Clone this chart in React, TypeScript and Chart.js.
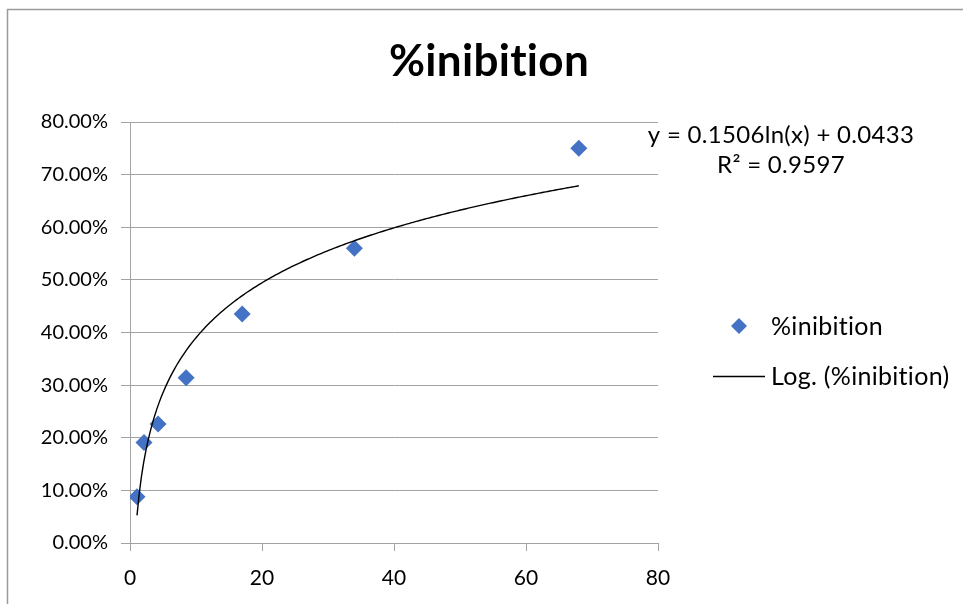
import React, { useEffect, useRef } from "react";
import { Chart, registerables } from "chart.js";

Chart.register(...registerables);

const seriesName = "%inibition";
const xValues = [1.0625, 2.125, 4.25, 8.5, 17, 34, 68];
const yValues = [0.088, 0.191, 0.226, 0.314, 0.435, 0.56, 0.75];
const trendSlope = 0.1506;
const trendIntercept = 0.0433;
const equationText = "y = 0.1506ln(x) + 0.0433";
const r2Text = "R² = 0.9597";
const trendName = "Log. (%inibition)";

const FONT = "Lato, 'Open Sans', sans-serif";
const GRID = "#a3a3a3";
const BLUE = "#4472C4";

export default function App() {
  const ref = useRef<HTMLCanvasElement | null>(null);

  useEffect(() => {
    if (!ref.current) return;
    const scatterData = xValues.map((x, i) => ({ x, y: yValues[i] }));
    const xMin = xValues[0];
    const xMax = xValues[xValues.length - 1];
    const trendData: { x: number; y: number }[] = [];
    const n = 200;
    for (let i = 0; i <= n; i++) {
      const x = xMin + ((xMax - xMin) * i) / n;
      trendData.push({ x, y: trendSlope * Math.log(x) + trendIntercept });
    }

    const overlay = {
      id: "overlay",
      afterDraw(chart: any) {
        const ctx = chart.ctx as any;
        ctx.save();
        // frame
        ctx.strokeStyle = "#9a9a9a";
        ctx.lineWidth = 1.5;
        ctx.beginPath();
        ctx.moveTo(7.5, 604);
        ctx.lineTo(7.5, 9.5);
        ctx.lineTo(963, 9.5);
        ctx.stroke();
        // disable ligatures via tiny letter spacing
        try {
          ctx.letterSpacing = "0.3px";
        } catch (e) {}
        // title
        ctx.fillStyle = "#000";
        ctx.textAlign = "center";
        ctx.textBaseline = "middle";
        ctx.font = `bold 44px ${FONT}`;
        ctx.fillText(seriesName, 489, 62);
        // equation
        ctx.font = `24px ${FONT}`;
        ctx.fillText(equationText, 781, 135);
        ctx.fillText(r2Text, 781, 165);
        // legend
        ctx.textAlign = "left";
        ctx.fillStyle = BLUE;
        const cx = 739, cy = 326, r = 8;
        ctx.beginPath();
        ctx.moveTo(cx, cy - r);
        ctx.lineTo(cx + r, cy);
        ctx.lineTo(cx, cy + r);
        ctx.lineTo(cx - r, cy);
        ctx.closePath();
        ctx.fill();
        ctx.fillStyle = "#000";
        ctx.font = `25px ${FONT}`;
        ctx.fillText(seriesName, 771, 327);
        ctx.strokeStyle = "#000";
        ctx.lineWidth = 1.3;
        ctx.beginPath();
        ctx.moveTo(713, 376.5);
        ctx.lineTo(765, 376.5);
        ctx.stroke();
        ctx.fillText(trendName, 771, 377);
        ctx.restore();
      },
    };

    const chart = new Chart(ref.current, {
      type: "scatter",
      data: {
        datasets: [
          {
            label: trendName,
            data: trendData,
            showLine: true,
            borderColor: "#000",
            borderWidth: 1.4,
            pointRadius: 0,
            tension: 0,
            order: 0,
          },
          {
            label: seriesName,
            data: scatterData,
            pointStyle: "rectRot",
            pointRadius: 8.5,
            backgroundColor: BLUE,
            borderColor: BLUE,
            borderWidth: 0,
            order: 1,
          },
        ],
      },
      options: {
        animation: false,
        responsive: false,
        devicePixelRatio: 1,
        layout: { padding: { top: 122, right: 305, left: 0, bottom: 0 } },
        plugins: {
          legend: { display: false },
          title: { display: false },
          tooltip: { enabled: false },
        },
        scales: {
          x: {
            type: "linear",
            min: 0,
            max: 80,
            afterFit: (s: any) => {
              s.height = 61;
            },
            ticks: {
              stepSize: 20,
              color: "#000",
              padding: 15,
              font: { family: FONT, size: 21 },
              maxRotation: 0,
            },
            grid: {
              drawOnChartArea: false,
              drawTicks: true,
              tickLength: 8,
              color: GRID,
            },
            border: { color: GRID, width: 1 },
          },
          y: {
            type: "linear",
            min: 0,
            max: 0.8,
            afterFit: (s: any) => {
              s.width = 130;
            },
            ticks: {
              stepSize: 0.1,
              color: "#000",
              padding: 13,
              font: { family: FONT, size: 20 },
              callback: (v: any) => (Number(v) * 100).toFixed(2) + "%",
            },
            grid: {
              color: GRID,
              tickLength: 9,
              drawTicks: true,
            },
            border: { color: GRID, width: 1 },
          },
        },
      },
      plugins: [overlay],
    });
    return () => chart.destroy();
  }, []);

  return (
    <div style={{ position: "absolute", left: 0, top: 0, width: 963, height: 604, background: "#fff" }}>
      <canvas ref={ref} width={963} height={604} />
    </div>
  );
}
